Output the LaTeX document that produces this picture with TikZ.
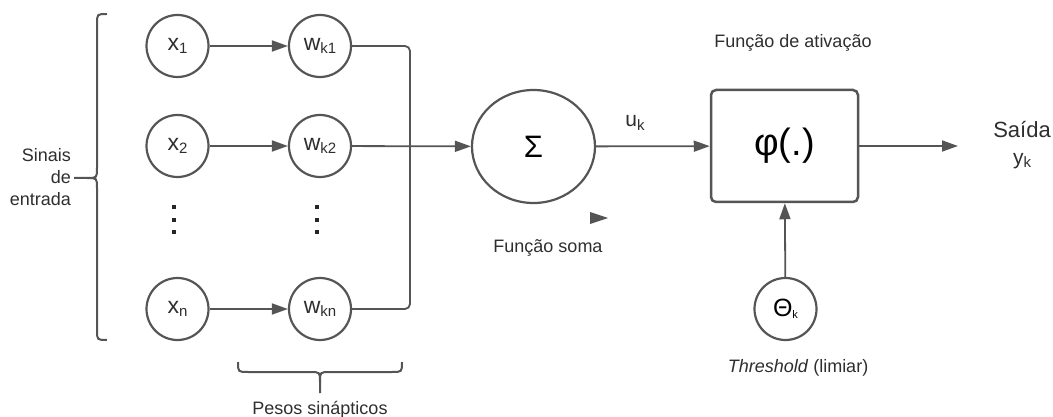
\documentclass[tikz,border=0pt]{standalone}
\usepackage{fontspec}
\setmainfont{Liberation Sans}
\usetikzlibrary{arrows.meta,shapes.geometric}
\definecolor{lncol}{HTML}{555555}
\definecolor{txcol}{HTML}{2E2E2E}
\newcommand\vsub[2]{{\fontsize{23}{23}\selectfont #1}{\fontsize{15}{15}\selectfont\raisebox{-3.5pt}{#2}}}
\begin{document}
\begin{tikzpicture}[x=1pt,y=-1pt,
  circ/.style={circle, draw=lncol, line width=2.2pt, minimum size=62pt, inner sep=0pt, text=txcol},
  wire/.style={draw=lncol, line width=1.8pt},
  arrowwire/.style={wire, -{Triangle[length=16pt,width=11pt]}},
  lbl/.style={text=txcol, font=\fontsize{18}{22}\selectfont, inner sep=0pt}]
\useasboundingbox (0,0) rectangle (1053,417);
% input column
\node[circ] (x1) at (177.5,46) {\vsub{x}{1}};
\node[circ] (x2) at (177.5,146) {\vsub{x}{2}};
\node[circ] (xn) at (177.5,309) {\vsub{x}{n}};
\node[circ] (w1) at (320,46) {\vsub{w}{k1}};
\node[circ] (w2) at (320,146) {\vsub{w}{k2}};
\node[circ] (wn) at (320,309) {\vsub{w}{kn}};
% dots
\foreach \yy in {207,220,232}{
  \fill[black!85] (172,\yy-2) rectangle (176,\yy+2);
  \fill[black!85] (315,\yy-2) rectangle (319,\yy+2);
}
\draw[arrowwire] (x1) -- (w1);
\draw[arrowwire] (x2) -- (w2);
\draw[arrowwire] (xn) -- (wn);
% summation
\node[draw=lncol, line width=2.2pt, ellipse, minimum width=123pt, minimum height=113pt, inner sep=0pt, text=black] (sig) at (533.5,146.5) {\fontsize{31}{31}\selectfont Σ};
\coordinate (j) at (410,146);
\draw[wire, rounded corners=5pt] (w1.east) -| (j);
\draw[wire, rounded corners=5pt] (wn.east) -| (j);
\draw[arrowwire] (w2) -- (sig);
% activation
\node[draw=lncol, line width=2.5pt, rounded corners=5pt, minimum width=147pt, minimum height=112pt, text=black] (phi) at (784.5,146) {\fontsize{38}{38}\selectfont φ(.)};
\draw[arrowwire] (sig) -- (phi);
\node[lbl, font=\fontsize{21}{21}\selectfont] (uk) at (635,123) {u{\fontsize{15}{15}\selectfont\raisebox{-3.5pt}{k}}};
\node[circ, text=black] (th) at (785.5,309) {{\fontsize{25}{25}\selectfont Θ}{\fontsize{11}{11}\selectfont\raisebox{-2pt}{k}}};
\draw[arrowwire] (th) -- (phi);
\coordinate (out) at (958,146);
\draw[arrowwire] (phi) -- (out);
% stray triangle
\fill[lncol] (590,212) -- (608,218) -- (590,224) -- cycle;
% braces
\draw[wire, line width=2pt] (107,14) .. controls (97,14) .. (97,24) -- (97,168) .. controls (97,178) .. (87,178) -- (74,178);
\draw[wire, line width=2pt] (87,178) .. controls (97,178) .. (97,188) -- (97,330) .. controls (97,340) .. (107,340);
\draw[wire, line width=2pt] (238,362) .. controls (238,372) .. (248,372) -- (310,372) .. controls (320,372) .. (320,382) -- (320,393);
\draw[wire, line width=2pt] (320,382) .. controls (320,372) .. (330,372) -- (392,372) .. controls (402,372) .. (402,362);
% labels
\node[lbl, align=right, anchor=east] (sin) at (71,177) {Sinais\\de\\entrada};
\node[lbl] (soma) at (548,248) {Função soma};
\node[lbl] (ativ) at (793,43) {Função de ativação};
\node[lbl] (thr) at (798,368) {\textit{Threshold} (limiar)};
\node[lbl] (pesos) at (320,410) {Pesos sinápticos};
\node[lbl, font=\fontsize{22}{22}\selectfont] (said) at (1022,130) {Saída};
\node[lbl, font=\fontsize{21}{21}\selectfont] (yk) at (1022,161) {y{\fontsize{15}{15}\selectfont\raisebox{-3.5pt}{k}}};
\end{tikzpicture}
\end{document}
